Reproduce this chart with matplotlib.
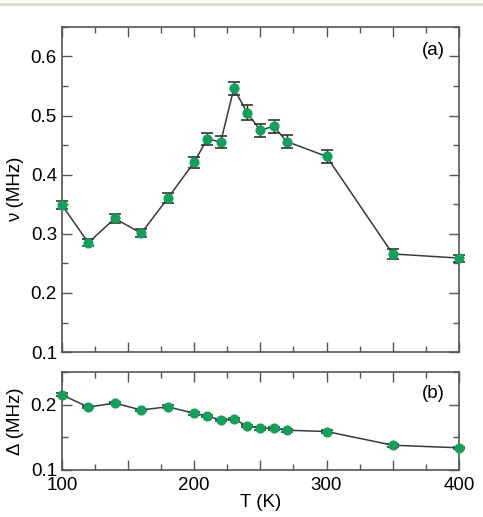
import matplotlib
matplotlib.use('Agg')
import matplotlib.pyplot as plt
from matplotlib.ticker import MultipleLocator

# temperatures (K)
temps = [100, 120, 140, 160, 180, 200, 210, 220, 230, 240, 250, 260, 270, 300, 350, 400]

# panel (a): nu (MHz) with error bars
nu = [0.349, 0.285, 0.326, 0.301, 0.360, 0.421, 0.461, 0.455, 0.546, 0.505,
      0.475, 0.482, 0.456, 0.431, 0.266, 0.259]
nu_err = [0.007, 0.006, 0.008, 0.007, 0.0085, 0.009, 0.010, 0.010, 0.0115, 0.0125,
          0.0105, 0.011, 0.011, 0.011, 0.009, 0.006]

# panel (b): Delta (MHz)
delta = [0.2154, 0.1965, 0.2026, 0.192, 0.197, 0.187, 0.183, 0.1765, 0.178, 0.1677,
         0.164, 0.164, 0.161, 0.159, 0.138, 0.134]
delta_err = [0.002] * len(temps)

plt.rcParams['font.family'] = ['Liberation Sans', 'DejaVu Sans']

green = '#13a05a'
line_col = '#3a3a3a'
fs = 13.5

fig = plt.figure(figsize=(4.83, 5.17), dpi=100)
# grey strip across the top of the screenshot
fig.add_artist(plt.Rectangle((0, 0.988), 1, 0.006, transform=fig.transFigure,
                             color='#dcdcd4', lw=0))

ax1 = fig.add_axes([0.128, 0.319, 0.822, 0.629])
ax2 = fig.add_axes([0.128, 0.091, 0.822, 0.189])


def style(ax):
    ax.set_xlim(100, 400)
    ax.xaxis.set_major_locator(MultipleLocator(50))
    ax.xaxis.set_minor_locator(MultipleLocator(25))
    ax.tick_params(which='both', direction='in', top=True, right=True,
                   labelsize=fs, color='#555555')
    ax.tick_params(which='major', length=7, width=1)
    ax.tick_params(which='minor', length=4, width=1)
    for s in ax.spines.values():
        s.set_color('#555555')
        s.set_linewidth(1.2)


for ax, y, err, lab, tag, ylim in [
        (ax1, nu, nu_err, 'ν (MHz)', '(a)', (0.1, 0.65)),
        (ax2, delta, delta_err, 'Δ (MHz)', '(b)', (0.1, 0.25))]:
    style(ax)
    ax.errorbar(temps, y, yerr=err, fmt='o', color=line_col, ecolor='#222222',
                mfc=green, mec=green, ms=6.3, lw=1.1, capsize=4.5, capthick=1.1,
                elinewidth=1.0, ls='-', clip_on=False, zorder=3)
    ax.set_ylim(*ylim)
    ax.set_ylabel(lab, fontsize=fs)
    ax.text(0.965, 0.955 if ax is ax1 else 0.87, tag, transform=ax.transAxes,
            ha='right', va='top', fontsize=fs)
    ax.yaxis.set_major_locator(MultipleLocator(0.1))
    ax.yaxis.set_minor_locator(MultipleLocator(0.05))
    ax.yaxis.set_major_formatter(plt.FuncFormatter(lambda v, p: '%.1f' % v))
    ax.yaxis.set_label_coords(-0.095, 0.5)

ax1.set_xticklabels([])

ax2.tick_params(axis='x', which='major', pad=5)
ax2.xaxis.set_major_formatter(
    plt.FuncFormatter(lambda v, p: '%d' % v if abs(v % 100) < 1e-6 else ''))
ax2.set_xlabel('T (K)', fontsize=fs, labelpad=0)

fig.savefig('out.png', dpi=100)
